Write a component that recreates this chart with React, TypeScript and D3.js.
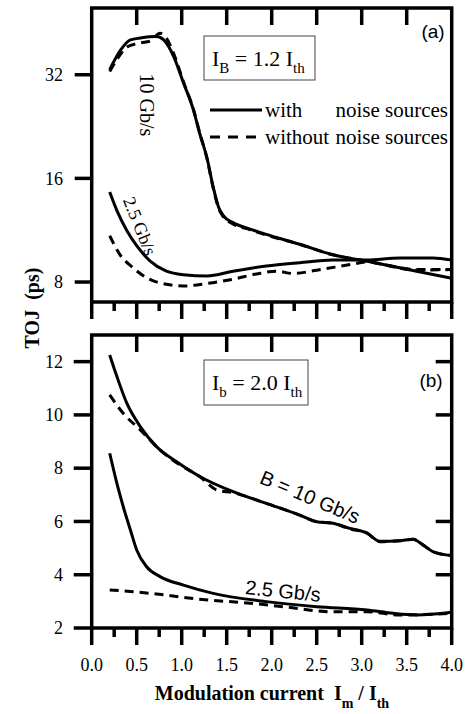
import React from "react";
import * as d3 from "d3";

// ---------- data ----------
const xMajorTicks = [0, 0.5, 1, 1.5, 2, 2.5, 3, 3.5, 4];
const xMinorTicks = [0.25, 0.75, 1.25, 1.75, 2.25, 2.75, 3.25, 3.75];
const xTickLabels = ["0.0", "0.5", "1.0", "1.5", "2.0", "2.5", "3.0", "3.5", "4.0"];
const topYTicks = [8, 16, 32];
const bottomYTicks = [2, 4, 6, 8, 10, 12];

// Panel (a): I_B = 1.2 I_th, log scale
const a10WithX = [0.2, 0.32, 0.43, 0.54, 0.72, 0.8, 0.91, 1.02, 1.13, 1.2, 1.28, 1.35, 1.41, 1.46, 1.57, 1.76, 1.94, 2.31, 2.68, 3.06, 3.24, 3.61, 4.0];
const a10WithY = [33.1, 37.7, 40.4, 40.9, 41.3, 40.4, 36.2, 30.3, 25.3, 21.6, 18.4, 15.1, 13.2, 12.5, 11.9, 11.4, 11.0, 10.3, 9.6, 9.19, 9.0, 8.6, 8.2];
const a10WithoutX = [0.2, 0.28, 0.39, 0.54, 0.65, 0.76, 0.83, 0.91, 1.02, 1.13, 1.2, 1.28, 1.35, 1.41, 1.46, 1.57, 1.76, 1.94, 2.31, 2.68, 3.06, 3.24, 3.61, 4.0];
const a10WithoutY = [32.7, 35.4, 38.5, 39.6, 40.1, 42.2, 40.9, 36.9, 30.5, 25.4, 21.7, 18.3, 15.0, 13.1, 12.4, 11.8, 11.35, 10.95, 10.3, 9.6, 9.2, 9.0, 8.7, 8.7];
const a25WithX = [0.2, 0.28, 0.39, 0.5, 0.65, 0.83, 1.02, 1.28, 1.57, 1.94, 2.31, 2.68, 3.06, 3.42, 3.79, 4.0];
const a25WithY = [14.6, 12.9, 11.3, 10.2, 9.2, 8.6, 8.4, 8.33, 8.6, 8.9, 9.1, 9.27, 9.27, 9.4, 9.4, 9.27];
const a25WithoutX = [0.2, 0.31, 0.46, 0.61, 0.83, 1.02, 1.28, 1.57, 1.83, 2.05, 2.24, 2.5, 2.88, 3.06, 3.24, 3.42, 3.61, 4.0];
const a25WithoutY = [10.9, 9.64, 8.8, 8.23, 7.88, 7.79, 7.92, 8.15, 8.44, 8.6, 8.47, 8.66, 9.0, 9.15, 9.0, 8.78, 8.66, 8.7];

// Panel (b): I_b = 2.0 I_th, linear scale
const b10WithX = [0.2, 0.28, 0.39, 0.54, 0.72, 0.94, 1.2, 1.57, 1.94, 2.31, 2.5, 2.68, 2.87, 3.06, 3.2, 3.42, 3.57, 3.68, 3.79, 4.0];
const b10WithY = [12.25, 11.44, 10.44, 9.56, 8.81, 8.25, 7.69, 7.12, 6.68, 6.24, 5.99, 5.93, 5.74, 5.56, 5.26, 5.28, 5.33, 5.12, 4.87, 4.72];
const b10WithoutX = [0.2, 0.35, 0.54, 0.76, 0.98, 1.2, 1.39, 1.57, 1.94, 2.31, 2.5, 2.68, 2.87, 3.06, 3.2, 3.42, 3.57, 3.68, 3.79, 4.0];
const b10WithoutY = [10.75, 10.06, 9.44, 8.68, 8.12, 7.69, 7.18, 7.08, 6.68, 6.24, 5.99, 5.93, 5.72, 5.56, 5.24, 5.28, 5.33, 5.12, 4.87, 4.72];
const b25WithX = [0.2, 0.28, 0.35, 0.43, 0.5, 0.61, 0.76, 1.02, 1.35, 1.94, 2.5, 3.06, 3.35, 3.61, 4.0];
const b25WithY = [8.56, 7.43, 6.56, 5.68, 4.93, 4.3, 3.93, 3.61, 3.3, 2.99, 2.8, 2.68, 2.55, 2.49, 2.59];
const b25WithoutX = [0.2, 0.65, 1.2, 1.76, 2.13, 2.68, 3.06, 3.42, 4.0];
const b25WithoutY = [3.43, 3.3, 3.08, 2.93, 2.8, 2.61, 2.61, 2.49, 2.55];

// ---------- layout ----------
const W = 469;
const H = 714;
const L = 91.7;
const R = 451.7;
const aTop = 8;
const aBot = 302;
const bTop = 335;
const bBot = 628;

const SERIF = "'Liberation Serif', 'Times New Roman', serif";
const SANS = "'Liberation Sans', Arial, sans-serif";

const zip = (xs: number[], ys: number[]) => xs.map((x, i) => [x, ys[i]] as [number, number]);

export default function App() {
  const x = d3.scaleLinear().domain([0, 4]).range([L, R]);
  const yA = d3.scaleLog().domain([7, 50]).range([aBot, aTop]);
  const yB = d3.scaleLinear().domain([2, 13]).range([bBot, bTop]);

  const lineA = d3
    .line<[number, number]>()
    .x((d) => x(d[0]))
    .y((d) => yA(d[1]))
    .curve(d3.curveMonotoneX);
  const lineB = d3
    .line<[number, number]>()
    .x((d) => x(d[0]))
    .y((d) => yB(d[1]))
    .curve(d3.curveMonotoneX);

  const sw = 3;
  const dash = "9,6";

  const frame = (top: number, bot: number) => (
    <rect x={L} y={top} width={R - L} height={bot - top} fill="none" stroke="#000" strokeWidth={3.5} />
  );

  const bottomTicks = (bot: number) => (
    <g>
      {xMajorTicks.map((t) => (
        <line key={"M" + t} x1={x(t)} x2={x(t)} y1={bot} y2={bot + 17} stroke="#000" strokeWidth={3.5} />
      ))}
      {xMinorTicks.map((t) => (
        <line key={"m" + t} x1={x(t)} x2={x(t)} y1={bot} y2={bot + 9} stroke="#000" strokeWidth={3.5} />
      ))}
    </g>
  );

  const topTicks = (top: number) => (
    <g>
      {xMajorTicks.slice(1, -1).map((t) => (
        <line key={"T" + t} x1={x(t)} x2={x(t)} y1={top} y2={top + 17} stroke="#000" strokeWidth={3.5} />
      ))}
    </g>
  );

  return (
    <svg
      width={W}
      height={H}
      viewBox={`0 0 ${W} ${H}`}
      style={{ position: "absolute", left: 0, top: 0, background: "#fff" }}
    >
      <rect x={0} y={0} width={W} height={H} fill="#fff" />

      {/* ---------- Panel (a) ---------- */}
      {frame(aTop, aBot)}
      {topTicks(aTop)}
      {bottomTicks(aBot)}
      {topYTicks.map((t) => (
        <g key={"ya" + t}>
          <line x1={L - 17} x2={L} y1={yA(t)} y2={yA(t)} stroke="#000" strokeWidth={3.5} />
          <text x={63} y={yA(t)} dy="0.35em" textAnchor="end" fontFamily={SERIF} fontSize={18}>
            {t}
          </text>
        </g>
      ))}

      <path d={lineA(zip(a10WithX, a10WithY)) || ""} fill="none" stroke="#000" strokeWidth={sw} />
      <path d={lineA(zip(a10WithoutX, a10WithoutY)) || ""} fill="none" stroke="#000" strokeWidth={sw} strokeDasharray={dash} />
      <path d={lineA(zip(a25WithX, a25WithY)) || ""} fill="none" stroke="#000" strokeWidth={sw} />
      <path d={lineA(zip(a25WithoutX, a25WithoutY)) || ""} fill="none" stroke="#000" strokeWidth={sw} strokeDasharray={dash} />

      <text x={433} y={31} dy="0.35em" textAnchor="middle" fontFamily={SANS} fontSize={19}>
        (a)
      </text>

      <rect x={204} y={36} width={111} height={44} fill="#fff" stroke="#444" strokeWidth={1} />
      <text x={212} y={66} fontFamily={SERIF} fontSize={22} style={{ whiteSpace: "pre" }}>
        I
        <tspan fontSize={15} dy={7}>B</tspan>
        <tspan dy={-7}>{" = 1.2 I"}</tspan>
        <tspan fontSize={15} dy={7}>th</tspan>
      </text>

      {/* legend */}
      <line x1={210} x2={262} y1={110} y2={110} stroke="#000" strokeWidth={sw} />
      <line x1={210} x2={262} y1={137} y2={137} stroke="#000" strokeWidth={sw} strokeDasharray="10,8" />
      <text x={265} y={117} fontFamily={SERIF} fontSize={21}>with</text>
      <text x={448} y={117} textAnchor="end" fontFamily={SERIF} fontSize={21}>noise sources</text>
      <text x={265} y={144} fontFamily={SERIF} fontSize={21}>without</text>
      <text x={448} y={144} textAnchor="end" fontFamily={SERIF} fontSize={21}>noise sources</text>

      <text transform="translate(147,105) rotate(90)" textAnchor="middle" dy="0.35em" fontFamily={SERIF} fontSize={20}>
        10 Gb/s
      </text>
      <text transform="translate(140,226) rotate(68)" textAnchor="middle" dy="0.35em" fontFamily={SERIF} fontSize={18}>
        2.5 Gb/s
      </text>

      {/* ---------- Panel (b) ---------- */}
      {frame(bTop, bBot)}
      {topTicks(bTop)}
      {bottomTicks(bBot)}
      {bottomYTicks.map((t) => (
        <g key={"yb" + t}>
          <line x1={L - 18} x2={L} y1={yB(t)} y2={yB(t)} stroke="#000" strokeWidth={3.5} />
          {t !== 2 && (
            <line x1={R - 16} x2={R} y1={yB(t)} y2={yB(t)} stroke="#000" strokeWidth={3.5} />
          )}
          <text x={63} y={yB(t)} dy="0.35em" textAnchor="end" fontFamily={SERIF} fontSize={18}>
            {t}
          </text>
        </g>
      ))}

      <path d={lineB(zip(b10WithX, b10WithY)) || ""} fill="none" stroke="#000" strokeWidth={sw} />
      <path d={lineB(zip(b10WithoutX, b10WithoutY)) || ""} fill="none" stroke="#000" strokeWidth={sw} strokeDasharray={dash} />
      <path d={lineB(zip(b25WithX, b25WithY)) || ""} fill="none" stroke="#000" strokeWidth={sw} />
      <path d={lineB(zip(b25WithoutX, b25WithoutY)) || ""} fill="none" stroke="#000" strokeWidth={sw} strokeDasharray={dash} />

      <text x={431} y={380} dy="0.35em" textAnchor="middle" fontFamily={SANS} fontSize={19}>
        (b)
      </text>

      <rect x={204} y={360} width={104} height={45} fill="#fff" stroke="#444" strokeWidth={1} />
      <text x={212} y={390} fontFamily={SERIF} fontSize={22} style={{ whiteSpace: "pre" }}>
        I
        <tspan fontSize={15} dy={7}>b</tspan>
        <tspan dy={-7}>{" = 2.0 I"}</tspan>
        <tspan fontSize={15} dy={7}>th</tspan>
      </text>

      <text transform="translate(310,497) rotate(23)" textAnchor="middle" dy="0.35em" fontFamily={SANS} fontSize={20}>
        B = 10 Gb/s
      </text>
      <text transform="translate(283,591) rotate(6)" textAnchor="middle" dy="0.35em" fontFamily={SANS} fontSize={20}>
        2.5 Gb/s
      </text>

      {/* x tick labels */}
      {xMajorTicks.map((t, i) => (
        <text key={"xl" + t} x={x(t)} y={671} textAnchor="middle" fontFamily={SERIF} fontSize={18}>
          {xTickLabels[i]}
        </text>
      ))}

      {/* axis titles */}
      <text
        x={272}
        y={700}
        textAnchor="middle"
        fontFamily={SERIF}
        fontSize={20}
        fontWeight="bold"
        style={{ whiteSpace: "pre" }}
      >
        {"Modulation current  I"}
        <tspan fontSize={14} dy={8}>m</tspan>
        <tspan dy={-8}>{" / I"}</tspan>
        <tspan fontSize={14} dy={8}>th</tspan>
      </text>
      <text
        transform="translate(39,308) rotate(-90)"
        textAnchor="middle"
        fontFamily={SERIF}
        fontSize={20}
        fontWeight="bold"
        style={{ whiteSpace: "pre" }}
      >
        {"TOJ  (ps)"}
      </text>
    </svg>
  );
}
